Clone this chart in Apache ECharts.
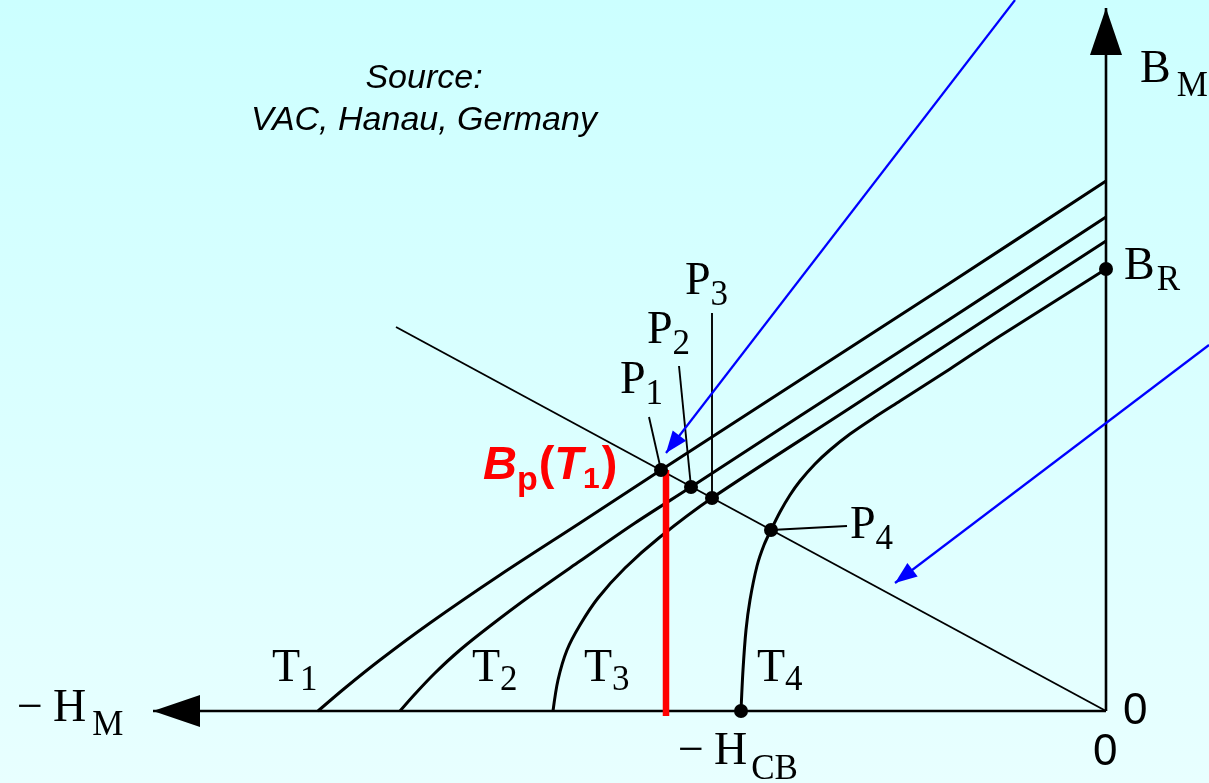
<!DOCTYPE html>
<html>
<head>
<meta charset="utf-8">
<title>Demagnetisation curves and load line</title>
<style>
  html, body { margin: 0; padding: 0; overflow: hidden; }
  #chart { width: 1209px; height: 783px; }
</style>
<script src="https://cdn.jsdelivr.net/npm/echarts@6/dist/echarts.min.js"></script>
</head>
<body>
<div id="chart"></div>
<script>
// Second-quadrant demagnetisation curves B(H) of a permanent magnet at four
// temperatures T1..T4, cut by the load line of the magnetic circuit.
// H is plotted to the left (−H), B upwards; both in arbitrary scale units.

// ---- data -----------------------------------------------------------------
const curveT1 = [[-7.88, 0], [-7.61, 0.23], [-7.26, 0.51], [-6.76, 0.88], [-6.06, 1.36],
                 [-5.26, 1.88], [-4.45, 2.41], [-3.06, 3.31], [-1.56, 4.28], [0, 5.30]];
const curveT2 = [[-7.06, 0], [-6.91, 0.17], [-6.71, 0.38], [-6.46, 0.61], [-6.16, 0.85],
                 [-5.76, 1.15], [-5.26, 1.50], [-4.71, 1.88], [-4.15, 2.24], [-3.06, 2.95],
                 [-1.56, 3.92], [0, 4.94]];
const curveT3 = [[-5.53, 0], [-5.48, 0.31], [-5.39, 0.61], [-5.26, 0.86], [-5.08, 1.13],
                 [-4.81, 1.43], [-4.46, 1.74], [-3.94, 2.13], [-2.56, 3.03], [-1.06, 4.01], [0, 4.70]];
const curveT4 = [[-3.65, 0], [-3.63, 0.41], [-3.60, 0.81], [-3.56, 1.11], [-3.49, 1.45],
                 [-3.42, 1.66], [-3.35, 1.81], [-3.26, 1.99], [-3.16, 2.16], [-3.06, 2.30],
                 [-2.91, 2.47], [-2.76, 2.61], [-2.56, 2.77], [-2.31, 2.94], [-2.06, 3.10],
                 [-1.56, 3.42], [-1.06, 3.75], [0, 4.42]];
const curveNames = ['T1', 'T2', 'T3', 'T4'];

const loadLine = [[0, 0], [-7.10, 3.84]];
const workingPoints = [[-4.45, 2.41], [-4.15, 2.24], [-3.94, 2.13], [-3.35, 1.81]];   // P1..P4
const pointNames = ['P1', 'P2', 'P3', 'P4'];
const leaderEnds = [[-4.57, 2.94], [-4.27, 3.45], [-3.94, 3.98], [-2.59, 1.85]];     // label side of P1..P4 leaders
const remanence = [0, 4.42];          // B_R
const coercivity = [-3.65, 0];        // −H_CB
const bpField = -4.40;                // H at which B_p(T1) is marked
const bpValue = workingPoints[0][1];  // B_p(T1) = B at P1
const hAxisTip = [-9.53, 0];
const bAxisTip = [0, 7.03];
const pointerArrows = [
  [[-0.91, 7.11], [-4.40, 2.58]],
  [[1.03, 3.66], [-2.11, 1.28]]
];

// ---- chart ------------------------------------------------------------------
const chart = echarts.init(document.getElementById('chart'), null, { renderer: 'canvas' });

function plainLine(name, data, width, color, z, smooth) {
  return {
    type: 'line', name, data, z: z || 2,
    symbol: 'none', showSymbol: false, silent: true, animation: false,
    smooth: smooth || false,
    lineStyle: { width, color, cap: 'butt', join: 'round' }
  };
}

const curves = [curveT1, curveT2, curveT3, curveT4];
const series = [
  plainLine('H axis', [[0, 0], hAxisTip], 2.6, '#000', 3),
  plainLine('B axis', [[0, 0], bAxisTip], 2.6, '#000', 3),
  plainLine('load line', loadLine, 1.9, '#000', 2)
];
curves.forEach((c, i) => series.push(plainLine(curveNames[i], c, 3, '#000', 4, 0.3)));
workingPoints.forEach((p, i) => series.push(plainLine(pointNames[i] + ' leader', [leaderEnds[i], p], 1.9, '#000', 3)));
series.push(plainLine('Bp(T1)', [[bpField, -0.05], [bpField, bpValue]], 6.5, '#ff0000', 5));
pointerArrows.forEach((a, i) => series.push(plainLine('pointer ' + (i + 1), a, 2.2, '#0000ff', 6)));
series.push({
  type: 'scatter', name: 'points', z: 8, silent: true, animation: false,
  symbol: 'circle', symbolSize: 14, itemStyle: { color: '#000', opacity: 1 },
  data: workingPoints.concat([remanence, coercivity])
});

chart.setOption({
  animation: false,
  backgroundColor: new echarts.graphic.LinearGradient(0, 0, 0, 1, [
    { offset: 0, color: '#ccffff' },
    { offset: 1, color: '#e8ffff' }
  ]),
  grid: { left: 0, right: 0, top: 0, bottom: 0, containLabel: false },
  xAxis: { type: 'value', min: -11.06, max: 1.03, show: false },
  yAxis: { type: 'value', min: -0.72, max: 7.11, show: false },
  series
});

// ---- annotations (text with subscripts, arrow heads) --------------------------
const toPx = p => chart.convertToPixel({ gridIndex: 0 }, p);
const ctx = document.createElement('canvas').getContext('2d');

const SERIF = "'Liberation Serif', 'DejaVu Serif', serif";
const SANS = "'Liberation Sans', Arial, sans-serif";
const MAIN = 46, SUB = 35;

// Lay out a run of text pieces on a shared baseline; anchor is [H, B] of the
// run's left end (or centre) on the baseline.
function textRun(anchor, parts, opts) {
  opts = opts || {};
  const [ax, ay] = toPx(anchor);
  const items = parts.map(p => {
    const font = `${p.style || 'normal'} ${p.weight || 'normal'} ${p.size}px ${p.family}`;
    ctx.font = font;
    return { p, font, w: ctx.measureText(p.t).width };
  });
  const total = items.reduce((s, it) => s + it.w + (it.p.pad || 0), 0);
  let x = opts.align === 'center' ? ax - total / 2 : ax;
  return items.map(it => {
    x += it.p.pad || 0;
    const el = {
      type: 'text', x, y: ay + (it.p.dy || 0) - 0.345 * it.p.size, z: 100, silent: true,
      style: { text: it.p.t, font: it.font, fill: opts.color || '#000',
               textAlign: 'left', textVerticalAlign: 'middle' }
    };
    x += it.w;
    return el;
  });
}

function symbolLabel(anchor, main, sub, subPad, subDy, lead) {
  const parts = [];
  if (lead) parts.push({ t: '\u2212', size: MAIN, family: SERIF }, { t: main, size: MAIN, family: SERIF, pad: 10 });
  else parts.push({ t: main, size: MAIN, family: SERIF });
  parts.push({ t: sub, size: SUB, family: SERIF, pad: subPad, dy: subDy });
  return textRun(anchor, parts);
}

function arrowHead(from, tip, len, width, color) {
  const a = toPx(from), b = toPx(tip);
  const dx = b[0] - a[0], dy = b[1] - a[1], L = Math.hypot(dx, dy);
  const ux = dx / L, uy = dy / L, nx = -uy, ny = ux;
  const bx = b[0] - ux * len, by = b[1] - uy * len;
  return {
    type: 'polygon', z: 90, silent: true,
    shape: { points: [[b[0], b[1]], [bx + nx * width / 2, by + ny * width / 2], [bx - nx * width / 2, by - ny * width / 2]] },
    style: { fill: color }
  };
}

const graphic = [];
// axis arrow heads and pointer arrow heads
graphic.push(arrowHead([0, 0], hAxisTip, 47, 32, '#000'));
graphic.push(arrowHead([0, 0], bAxisTip, 47, 32, '#000'));
pointerArrows.forEach(a => graphic.push(arrowHead(a[0], a[1], 22, 17, '#0000ff')));

// axis names
graphic.push(...symbolLabel([0.34, 6.25], 'B', 'M', 6, 13));
graphic.push(...symbolLabel([0.18, 4.28], 'B', 'R', 2, 10));
graphic.push(...symbolLabel([-10.89, -0.14], 'H', 'M', 6, 13, true));
graphic.push(...symbolLabel([-4.28, -0.57], 'H', 'CB', 4, 14, true));
graphic.push(...textRun([0.17, -0.16], [{ t: '0', size: 44, family: SANS }]));
graphic.push(...textRun([-0.13, -0.57], [{ t: '0', size: 44, family: SANS }]));

// working points P1..P4
const pointLabelAnchors = [[-4.86, 3.14], [-4.59, 3.64], [-4.21, 4.13], [-2.56, 1.69]];
pointNames.forEach((n, i) => graphic.push(...symbolLabel(pointLabelAnchors[i], n[0], n.slice(1), 0, 10)));

// temperature labels T1..T4
const curveLabelAnchors = [[-8.34, 0.26], [-6.34, 0.26], [-5.22, 0.26], [-3.49, 0.26]];
curveNames.forEach((n, i) => graphic.push(...symbolLabel(curveLabelAnchors[i], n[0], n.slice(1), 0, 8)));

// B_p(T_1)
const BI = { family: SANS, style: 'italic', weight: 'bold' };
graphic.push(...textRun([-6.23, 2.29], [
  Object.assign({ t: 'B', size: 47 }, BI),
  { t: 'p', size: 34, family: SANS, weight: 'bold', dy: 10 },
  { t: '(', size: 47, family: SANS, weight: 'bold', pad: 1 },
  Object.assign({ t: 'T', size: 47 }, BI),
  { t: '1', size: 30, family: SANS, weight: 'bold', dy: 8 },
  { t: ')', size: 47, family: SANS, weight: 'bold', pad: 2 }
], { color: '#ff0000' }));

// source note
graphic.push(...textRun([-6.82, 6.21], [{ t: 'Source:', size: 34, family: SANS, style: 'italic' }], { align: 'center' }));
graphic.push(...textRun([-6.82, 5.79], [{ t: 'VAC, Hanau, Germany', size: 34, family: SANS, style: 'italic' }], { align: 'center' }));

chart.setOption({ graphic });
</script>
</body>
</html>
